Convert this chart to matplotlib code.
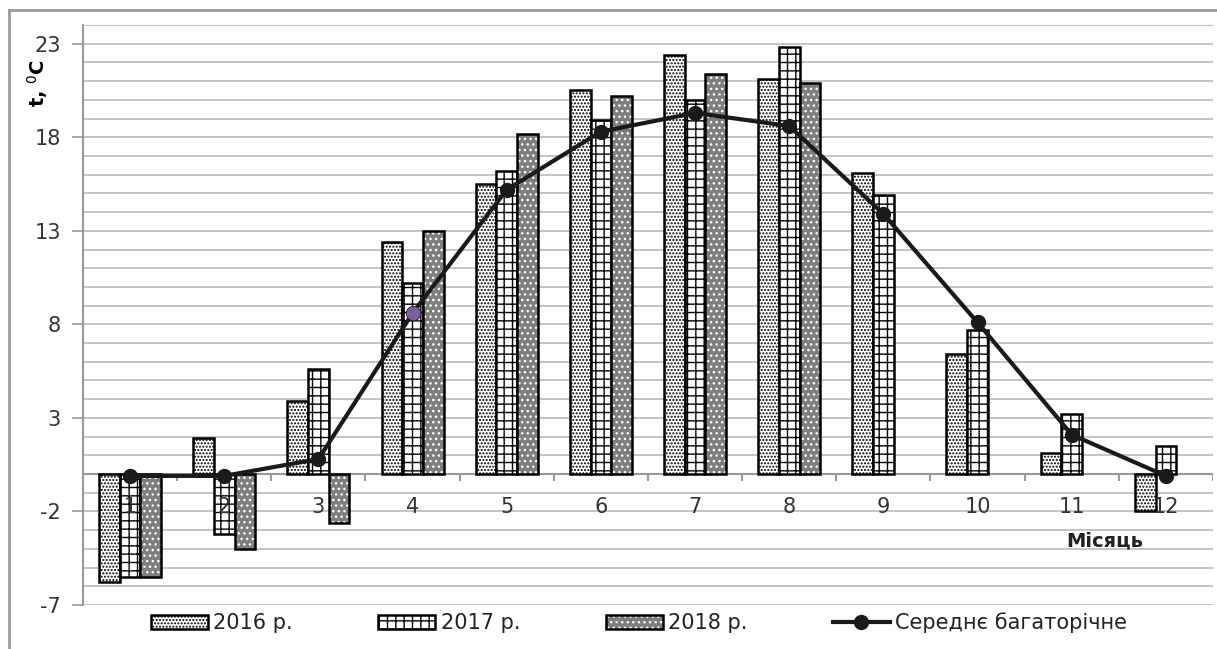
import numpy as np
import matplotlib
matplotlib.use("Agg")
import matplotlib.pyplot as plt
from matplotlib.patches import Patch
from matplotlib.lines import Line2D
from matplotlib.legend_handler import HandlerTuple

plt.rcParams['font.family'] = ['DejaVu Sans']
plt.rcParams['hatch.linewidth'] = 1.0
plt.rcParams['axes.unicode_minus'] = False

months = [1, 2, 3, 4, 5, 6, 7, 8, 9, 10, 11, 12]
t2016 = [-5.75, 1.9, 3.9, 12.4, 15.5, 20.5, 22.4, 21.1, 16.1, 6.4, 1.1, -2.0]
t2017 = [-5.5, -3.2, 5.6, 10.2, 16.2, 18.9, 20.0, 22.8, 14.9, 7.7, 3.2, 1.5]
t2018 = [-5.5, -4.0, -2.6, 13.0, 18.2, 20.2, 21.4, 20.9, np.nan, np.nan, np.nan, np.nan]
t_mean = [-0.1, -0.1, 0.8, 8.6, 15.2, 18.3, 19.3, 18.6, 13.9, 8.1, 2.1, -0.1]
series_names = ['2016 р.', '2017 р.', '2018 р.', 'Середнє багаторічне']

fig = plt.figure(figsize=(12.17, 6.49), dpi=100)
ax = fig.add_axes([0.0682, 0.0678, 0.9285, 0.8937])

x = np.array(months)
w = 0.22
gray18 = '#7e7e7e'

# gridlines every 1 degree
for v in range(-7, 25):
    ax.axhline(v, color='#b4b4b4', lw=1.1, zorder=0)

ax.bar(x - w, t2016, w, facecolor='white', edgecolor='black', hatch='.....',
       lw=1.8, zorder=2)
ax.bar(x, t2017, w, facecolor='white', edgecolor='black', hatch='++',
       lw=1.8, zorder=2)
ax.bar(x + w, t2018, w, facecolor=gray18, edgecolor='white', hatch='...',
       lw=0, zorder=2)
ax.bar(x + w, t2018, w, fill=False, edgecolor='black', lw=1.8, zorder=2)

ax.plot(x, t_mean, color='#1a1a1a', lw=3, marker='o', ms=10, zorder=4)
ax.plot([x[3]], [t_mean[3]], 'o', color='#7a5fa0', ms=9, zorder=5)

# category axis at zero
ax.axhline(0, color='#9a9a9a', lw=1.5, zorder=1)
ax.vlines(np.arange(1.5, 13.0, 1.0), -0.35, 0, color='#9a9a9a', lw=1.5, zorder=1)
for m in months:
    ax.text(m, -1.75, str(m), ha='center', va='center', fontsize=15, color='#333333', zorder=3)
ax.text(11.35, -3.6, 'Місяць', ha='center', va='center', fontsize=14,
        fontweight='bold', color='#222222')

ax.set_xlim(0.5, 12.5)
ax.set_ylim(-7, 24)
ax.set_yticks([-7, -2, 3, 8, 13, 18, 23])
ax.set_xticks([])
ax.tick_params(axis='y', labelsize=15, length=8, width=1.2, color='#9a9a9a',
               labelcolor='#333333', pad=8)
for s in ['right', 'bottom']:
    ax.spines[s].set_visible(False)
ax.spines['left'].set_color('#9a9a9a')
ax.spines['left'].set_linewidth(1.5)
ax.spines['top'].set_color('#c0c0c0')

fig.text(0.031, 0.872, r't, $^{0}$C', rotation=90, ha='center', va='center',
         fontsize=14, fontweight='bold')

# outer frame
fig.add_artist(Line2D([0.0075, 0.0075], [0, 0.985], color='#999999', lw=2))
fig.add_artist(Line2D([0.0075, 1.0], [0.985, 0.985], color='#999999', lw=2))

handles = [
    Patch(facecolor='white', edgecolor='black', hatch='.....', lw=1.8),
    Patch(facecolor='white', edgecolor='black', hatch='++', lw=1.8),
    (Patch(facecolor=gray18, edgecolor='white', hatch='...', lw=0),
     Patch(fill=False, edgecolor='black', lw=1.8)),
    Line2D([], [], color='#1a1a1a', lw=3, marker='o', ms=10),
]
fig.legend(handles, series_names, loc='center', bbox_to_anchor=(0.525, 0.04), ncol=4,
           frameon=False, fontsize=15, handlelength=2.75, handleheight=0.7,
           columnspacing=4.1, handletextpad=0.25, labelcolor='#222222',
           handler_map={tuple: HandlerTuple(ndivide=1, pad=0)})

fig.savefig('out.png', dpi=100)
